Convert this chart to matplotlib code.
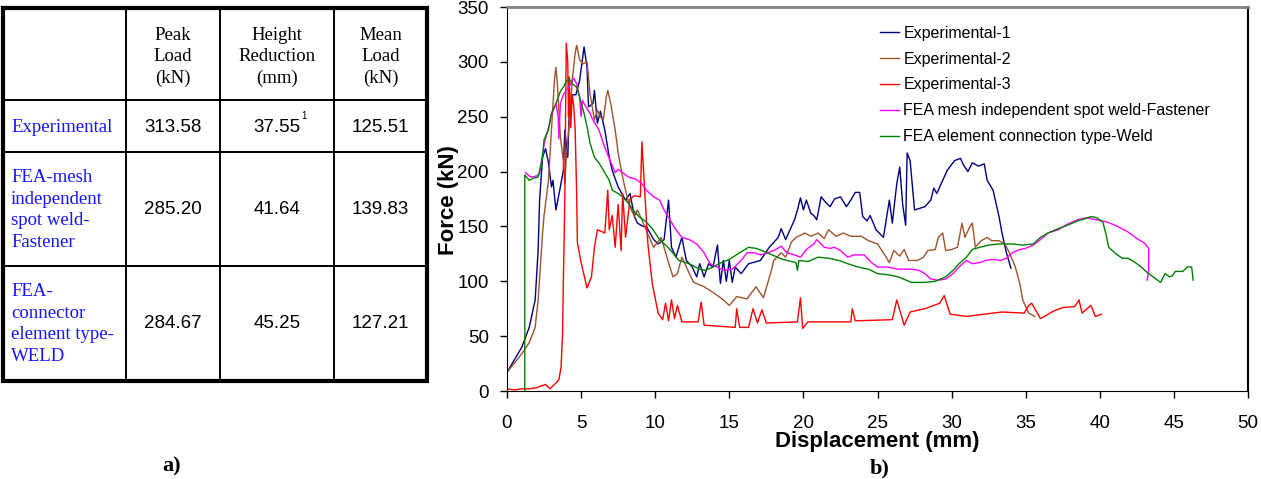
import matplotlib
matplotlib.use("Agg")
import matplotlib.pyplot as plt

SANS = "Liberation Sans"
SERIF = "Liberation Serif"

# ---- table values -------------------------------------------------------
col_heads = ["Peak\nLoad\n(kN)", "Height\nReduction\n(mm)", "Mean\nLoad\n(kN)"]
row_heads = ["Experimental",
             "FEA-mesh\nindependent\nspot weld-\nFastener",
             "FEA-\nconnector\nelement type-\nWELD"]
peak_load = ["313.58", "285.20", "284.67"]
height_red = ["37.55", "41.64", "45.25"]
mean_load = ["125.51", "139.83", "127.21"]

# ---- force / displacement curves (mm, kN) --------------------------------
exp1 = [(0, 17), (1.0, 40), (1.5, 58), (1.9, 83), (2.1, 128), (2.2, 174), (2.4, 213), (2.6, 221),
        (2.8, 208), (3.0, 186), (3.1, 192), (3.3, 165), (3.6, 186), (3.8, 201), (3.9, 238), (4.1, 213),
        (4.2, 253), (4.4, 270), (4.65, 270), (4.9, 283), (5.2, 313.58), (5.4, 295), (5.5, 259),
        (5.8, 262), (5.9, 274), (6.1, 244), (6.3, 255), (6.6, 238), (6.9, 213), (7.1, 201), (7.5, 186),
        (8.0, 174), (8.3, 180), (8.6, 159), (8.8, 153), (9.2, 150), (9.4, 150), (9.9, 138), (10.2, 134),
        (10.6, 138), (10.9, 174), (11.1, 131), (11.4, 122), (11.8, 140), (12.1, 119), (12.5, 113),
        (12.8, 104), (13.0, 116), (13.3, 104), (13.6, 116), (13.9, 113), (14.2, 133), (14.4, 98),
        (14.6, 119), (14.8, 100), (15.0, 119), (15.2, 99), (15.4, 113), (15.8, 107), (16.3, 116),
        (17.1, 119), (17.7, 131), (18.3, 140), (18.5, 148), (18.8, 138), (19.2, 150), (19.4, 156),
        (19.6, 165), (19.8, 176), (20.0, 165), (20.2, 174), (20.5, 162), (20.7, 160), (20.9, 156),
        (21.2, 177), (21.5, 172), (21.8, 168), (22.1, 175), (22.5, 177), (22.9, 168), (23.2, 174),
        (23.5, 181), (23.8, 181), (24.0, 159), (24.3, 155), (24.5, 160), (24.9, 147), (25.4, 140),
        (25.8, 174), (26.0, 153), (26.3, 189), (26.5, 204), (26.7, 170), (26.9, 151), (27.0, 217),
        (27.2, 210), (27.5, 165), (28.2, 168), (28.6, 174), (28.8, 185), (29.0, 180), (29.4, 192),
        (29.7, 201), (30.2, 210), (30.6, 212), (30.8, 206), (31.1, 200), (31.4, 208), (31.8, 205),
        (32.2, 207), (32.4, 192), (32.8, 183), (33.0, 171), (33.2, 159), (33.4, 144), (33.7, 126),
        (34.0, 112)]

exp2 = [(0, 17), (1.0, 34), (1.5, 44), (1.9, 58), (2.1, 83), (2.4, 144), (2.5, 160), (2.8, 192),
        (3.0, 238), (3.2, 283), (3.3, 295), (3.4, 280), (3.6, 232), (3.8, 210), (3.9, 189), (4.0, 213),
        (4.2, 244), (4.4, 283), (4.6, 308), (4.7, 315), (4.9, 302), (5.1, 298), (5.4, 300), (5.6, 271),
        (5.9, 247), (6.1, 256), (6.3, 250), (6.5, 247), (6.7, 268), (6.8, 274), (7.0, 262), (7.3, 238),
        (7.5, 217), (7.8, 195), (8.1, 177), (8.3, 168), (8.6, 159), (8.8, 165), (8.9, 162), (9.1, 156),
        (9.5, 143), (9.9, 131), (10.4, 140), (10.9, 117), (11.2, 104), (11.5, 107), (11.8, 122),
        (12.2, 110), (12.6, 99), (13.3, 95), (14.0, 89), (14.6, 83), (15.0, 78), (15.5, 86), (16.2, 84),
        (16.8, 95), (17.3, 85), (17.8, 108), (18.0, 119), (18.5, 126), (18.8, 122), (19.2, 136),
        (19.5, 140), (20.1, 144), (20.5, 141), (21.0, 144), (21.4, 139), (21.7, 147), (22.2, 141),
        (22.7, 144), (23.2, 141), (23.9, 141), (24.4, 137), (25.0, 134), (25.4, 126), (25.8, 117),
        (26.1, 128), (26.5, 123), (26.8, 129), (27.1, 119), (27.7, 119), (28.1, 122), (28.4, 128),
        (28.9, 129), (29.1, 140), (29.4, 144), (29.6, 128), (30.0, 129), (30.4, 131), (30.7, 153),
        (30.9, 140), (31.2, 149), (31.4, 153), (31.6, 131), (32.0, 137), (32.4, 140), (32.7, 137),
        (33.2, 137), (33.6, 134), (33.9, 126), (34.3, 113), (34.6, 98), (34.8, 83), (35.2, 71),
        (35.6, 68)]

exp3 = [(0, 2), (0.5, 1), (1.0, 2), (1.5, 2), (2.0, 3), (2.6, 6), (2.9, 2), (3.2, 6), (3.5, 10),
        (3.65, 22), (3.75, 53), (3.8, 98), (3.9, 174), (3.95, 250), (4.0, 317), (4.1, 300), (4.15, 250),
        (4.2, 286), (4.3, 240), (4.4, 270), (4.5, 260), (4.6, 238), (4.7, 180), (4.75, 135), (5.0, 117),
        (5.4, 94), (5.7, 104), (5.9, 131), (6.1, 147), (6.6, 144), (6.8, 183), (6.9, 147), (7.1, 160),
        (7.3, 131), (7.5, 170), (7.7, 128), (7.8, 180), (8.0, 140), (8.3, 175), (8.6, 178), (9.0, 177),
        (9.1, 227), (9.2, 204), (9.3, 180), (9.5, 135), (9.8, 98), (10.2, 71), (10.5, 65), (10.7, 80),
        (10.9, 64), (11.1, 83), (11.3, 66), (11.5, 78), (11.8, 63), (12.9, 63), (13.1, 81), (13.3, 60),
        (15.4, 58), (15.5, 75), (15.7, 58), (16.3, 58), (16.6, 75), (16.9, 62), (17.2, 74), (17.5, 62),
        (19.6, 63), (19.8, 85), (19.95, 57), (20.3, 63), (23.2, 63), (23.3, 75), (23.5, 64), (26.0, 65),
        (26.3, 83), (26.8, 60), (27.2, 72), (28.2, 75), (29.2, 80), (29.5, 87), (29.9, 70), (31.0, 68),
        (32.2, 70), (33.4, 72), (34.9, 71), (35.2, 78), (35.4, 80), (36.0, 66), (36.9, 73), (37.5, 76),
        (38.3, 77), (38.6, 83), (38.8, 71), (39.4, 78), (39.7, 68), (40.1, 70)]

fea_fastener = [(1.25, 199), (1.6, 195), (2.0, 196), (2.2, 198), (2.5, 225), (2.8, 240), (3.0, 252),
                (3.3, 262), (3.45, 250), (3.5, 230), (3.6, 262), (3.8, 270), (4.0, 274), (4.3, 280),
                (4.5, 285.20), (4.7, 280), (4.9, 268), (5.0, 250), (5.1, 265), (5.2, 262), (5.6, 253),
                (5.8, 247), (6.2, 238), (6.6, 222), (6.9, 212), (7.3, 199), (7.5, 202), (7.8, 199),
                (8.2, 195), (8.7, 193), (9.1, 189), (9.4, 183), (9.9, 177), (10.3, 174), (10.6, 165),
                (11.0, 156), (11.4, 147), (11.8, 140), (12.3, 138), (12.8, 134), (13.3, 126), (13.7, 116),
                (14.2, 113), (14.6, 110), (15.2, 111), (15.8, 119), (16.2, 126), (16.7, 126), (17.1, 124),
                (17.6, 126), (18.0, 128), (18.5, 132), (18.9, 126), (19.4, 124), (19.8, 122), (20.2, 129),
                (20.7, 134), (20.9, 138), (21.4, 131), (21.8, 130), (22.1, 131), (22.5, 128), (23.0, 122),
                (23.4, 124), (24.1, 124), (24.6, 117), (25.0, 113), (25.7, 113), (26.4, 111), (27.3, 111),
                (27.8, 110), (28.2, 107), (28.6, 102), (29.1, 101), (29.6, 102), (30.1, 107), (30.5, 113),
                (31.0, 119), (31.4, 116), (31.9, 117), (32.3, 119), (32.8, 120), (33.3, 119), (33.7, 121),
                (34.1, 126), (34.6, 129), (35.0, 130), (35.5, 133), (36.0, 138), (36.5, 144), (37.2, 147),
                (37.8, 152), (38.5, 156), (39.1, 158), (39.8, 156), (40.5, 154), (41.2, 150), (41.9, 145),
                (42.5, 139), (43.0, 135), (43.3, 130), (43.3, 110), (43.2, 101)]

fea_weld = [(1.2, 0), (1.2, 197), (1.5, 192), (1.8, 194), (2.1, 195), (2.4, 213), (2.5, 229), (2.8, 238),
            (3.0, 253), (3.3, 262), (3.6, 273), (3.8, 277), (4.0, 282), (4.2, 284.67), (4.4, 280),
            (4.7, 277), (4.9, 268), (5.2, 253), (5.4, 241), (5.6, 226), (5.9, 213), (6.2, 208), (6.6, 199),
            (6.9, 192), (7.1, 183), (7.5, 180), (7.8, 177), (8.2, 171), (8.5, 165), (8.9, 159), (9.4, 154),
            (9.8, 148), (10.3, 138), (11.0, 129), (11.6, 119), (12.3, 116), (13.0, 111), (13.4, 110),
            (13.9, 113), (14.3, 116), (15.0, 120), (15.7, 126), (16.3, 131), (16.8, 130), (17.2, 128),
            (17.9, 124), (18.6, 120), (19.2, 118), (19.5, 117), (19.6, 110), (19.7, 119), (20.3, 118),
            (21.0, 122), (21.7, 121), (22.4, 119), (23.0, 116), (23.7, 113), (24.4, 111), (25.0, 107),
            (25.7, 106), (26.4, 104), (27.3, 99), (28.2, 99), (28.9, 100), (29.6, 104), (30.1, 110),
            (30.5, 116), (31.0, 122), (31.4, 129), (31.9, 131), (32.5, 133), (33.2, 134), (34.1, 134),
            (34.8, 133), (35.5, 134), (36.0, 140), (36.5, 144), (37.2, 148), (37.8, 151), (38.5, 155),
            (39.0, 157), (39.4, 159), (39.8, 158), (40.2, 154), (40.4, 144), (40.6, 131), (41.0, 126),
            (41.5, 121), (41.9, 121), (42.4, 117), (42.8, 113), (43.2, 108), (43.7, 103), (44.1, 99),
            (44.4, 107), (44.7, 104), (44.9, 105), (45.1, 109), (45.6, 109), (45.9, 113), (46.2, 113),
            (46.3, 101)]

series = [
    (exp1, "Experimental-1", "#000080"),
    (exp2, "Experimental-2", "#A0522D"),
    (exp3, "Experimental-3", "#FF0000"),
    (fea_fastener, "FEA mesh independent spot weld-Fastener", "#FF00FF"),
    (fea_weld, "FEA element connection type-Weld", "#008000"),
]

W, H = 1261, 479
fig = plt.figure(figsize=(W / 100, H / 100), dpi=100)

# ---- a) table, drawn in pixel coordinates -------------------------------
tab = fig.add_axes([0, 0, 1, 1])
tab.set_xlim(0, W)
tab.set_ylim(H, 0)
tab.axis("off")

xs = [3, 126, 220, 334, 427]
ys = [8, 100, 152, 266, 381]
for x in xs[1:-1]:
    tab.plot([x, x], [ys[0], ys[-1]], color="black", lw=1.4)
for y in ys[1:-1]:
    tab.plot([xs[0], xs[-1]], [y, y], color="black", lw=1.4)
tab.plot([xs[0], xs[-1], xs[-1], xs[0], xs[0]], [ys[0], ys[0], ys[-1], ys[-1], ys[0]],
         color="black", lw=3.0, solid_joinstyle="miter")

col_cx = [(xs[i] + xs[i + 1]) / 2 for i in range(1, 4)]
for cx, head in zip(col_cx, col_heads):
    tab.text(cx, 57, head, ha="center", va="center", fontsize=13.5,
             family=SERIF, linespacing=1.36)

row_cy = [127, 210, 324]
for i, cy in enumerate(row_cy):
    tab.text(11, cy, row_heads[i], ha="left", va="center", fontsize=13.5, family=SERIF,
             color="#1414ff", linespacing=1.36)
    for cx, vals in zip(col_cx, [peak_load, height_red, mean_load]):
        tab.text(cx, cy, vals[i], ha="center", va="center", fontsize=13.5, family=SANS)
tab.text(301, 116, "1", ha="left", va="center", fontsize=7, family=SANS)

tab.text(172, 466, "a)", ha="center", va="center", fontsize=16, family=SERIF, weight="bold")
tab.text(880, 468, "b)", ha="center", va="center", fontsize=16, family=SERIF, weight="bold")

# ---- b) force vs displacement -------------------------------------------
ax = fig.add_axes([507 / W, (H - 391) / H, (1248 - 507) / W, (391 - 7) / H])
for pts, label, color in series:
    d = [p[0] for p in pts]
    f = [p[1] for p in pts]
    ax.plot(d, f, color=color, lw=1.0, label=label)

ax.set_xlim(0, 50)
ax.set_ylim(0, 350)
ax.set_xticks(range(0, 51, 5))
ax.set_yticks(range(0, 351, 50))
ax.tick_params(direction="out", length=5, width=1, labelsize=13.5)
ax.tick_params(axis="x", pad=12)
ax.tick_params(axis="y", pad=8)
for lab in ax.get_xticklabels() + ax.get_yticklabels():
    lab.set_family(SANS)

ax.spines["top"].set_color("#808080")
ax.spines["top"].set_linewidth(2)
ax.spines["right"].set_linewidth(1.5)

ax.set_xlabel("Displacement (mm)", fontsize=16, weight="bold", family=SANS)
ax.set_ylabel("Force (kN)", fontsize=16, weight="bold", family=SANS)
ax.xaxis.set_label_coords(0.499, -0.104)
ax.yaxis.set_label_coords(-0.065, 0.497)

leg = ax.legend(loc="upper left", bbox_to_anchor=(0.495, 0.968), frameon=False,
                prop={"family": SANS, "size": 11.5}, handlelength=1.15, handletextpad=0.3,
                labelspacing=0.68, borderaxespad=0)

fig.savefig("out.png", dpi=100)
